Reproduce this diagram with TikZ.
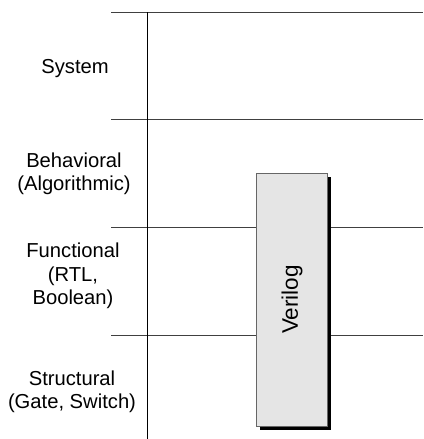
\documentclass[tikz,border=0pt]{standalone}
\usepackage{fontspec}
\setmainfont{Liberation Sans}
\tikzset{ > = stealth }
\usetikzlibrary{positioning,shadows}

\begin{document}
\begin{tikzpicture}
  [
    x = 1pt, y = -1pt,
    every node/.style = { font = \fontsize{20.2}{23.5}\selectfont, inner sep = 0pt, align = center },
    level/.style = { draw = black!75, line width = 0.8pt },
    lang/.style = { draw = black!60, fill = black!10, line width = 0.8pt,
                    minimum width = 71pt, minimum height = 253pt,
                    general shadow = { fill = black, shadow xshift = 4pt, shadow yshift = -4pt } }
  ]
    \useasboundingbox (0,0) rectangle (423,439);
    % level boundaries
    \foreach \y in {12,119.5,227,335}
      \draw [level] (111,\y) -- (423,\y);
    \draw [line width = 1.2pt] (147.5,12) -- (147.5,439);
    % level names
    \node (sys) at (75,69) {System};
    \node (beh) at (74,174) {Behavioral\\(Algorithmic)};
    \node (fun) at (73,276) {Functional\\(RTL,\\Boolean)};
    \node (str) at (72,392) {Structural\\(Gate, Switch)};
    % language span
    \node (box) [lang] at (291.5,299.5) {};
    \node (vlog) [rotate = 90, font = \fontsize{22.5}{26}\selectfont] at (292,299.5) {Verilog};
  \end{tikzpicture}
\end{document}
